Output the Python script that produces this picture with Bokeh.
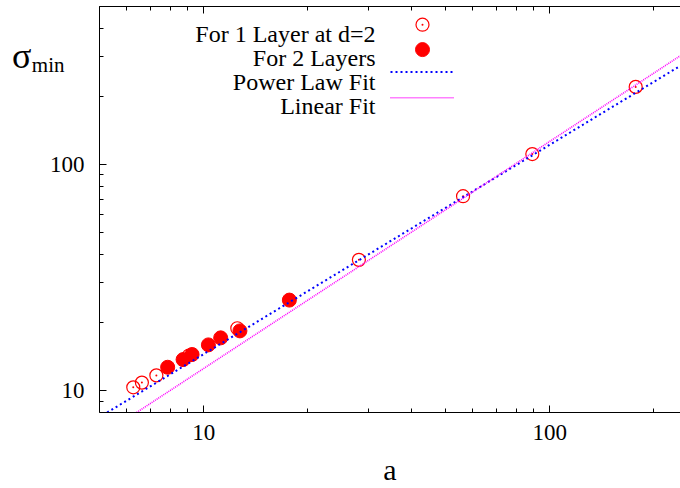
from bokeh.plotting import figure
from bokeh.models import Range1d, LinearScale, LogAxis, LinearAxis, FixedTicker
from bokeh.embed import file_html
from bokeh.resources import INLINE
from bokeh.core.properties import value

# ---------------- data ----------------
one_layer_a = [6.26, 6.63, 7.30, 9.07, 12.51, 28.1, 56.2, 89.1, 177.3]
one_layer_sigma = [10.37, 10.88, 11.71, 14.33, 18.91, 37.9, 72.4, 111.1, 220.0]

two_layer_a = [7.87, 8.72, 9.26, 10.32, 11.20, 12.73, 17.69]
two_layer_sigma = [12.72, 13.75, 14.48, 15.97, 17.15, 18.41, 25.18]

power_fit_a = [5.26, 239.0]
power_fit_sigma = [8.03, 273.0]

linear_fit_a = [6.40, 239.0]
linear_fit_sigma = [8.03, 302.5]

x_ticks = [10, 100]
x_minor_ticks = [5, 6, 7, 8, 9, 20, 30, 40, 50, 60, 70, 80, 90, 200]
y_ticks = [10, 100]
y_minor_ticks = [9, 20, 30, 40, 50, 60, 70, 80, 90, 200, 300, 400]
tick_labels = {10: "10", 100: "100"}

legend_labels = ["For 1 Layer at d=2", "For 2 Layers", "Power Law Fit", "Linear Fit"]
x_title = "a"
y_title_main, y_title_sub = "σ", "min"

# ---------------- layout ----------------
W, H = 680, 488
BL, BT, BB = 99, 6, 74
FW, FH = W - BL, H - BT - BB
FONT = "Liberation Serif"
RED, BLUE, MAGENTA = "#ff0000", "#0000ff", "#ff00ff"

p = figure(width=W, height=H, x_axis_type="log", y_axis_type="log",
           x_range=Range1d(5.0, 238.9), y_range=Range1d(8.03, 498.2),
           output_backend="svg", toolbar_location=None,
           min_border_left=BL, min_border_right=0, min_border_top=BT,
           min_border_bottom=BB)
p.outline_line_color = None
p.grid.visible = False
p.background_fill_color = "white"
p.border_fill_color = "white"

# pixel-space ranges (frame pixels) for the key and the y title
p.extra_x_ranges = {"px": Range1d(0, FW)}
p.extra_y_ranges = {"px": Range1d(0, FH)}
p.extra_x_scales = {"px": LinearScale()}
p.extra_y_scales = {"px": LinearScale()}

def px(page_x):
    return page_x - BL

def py(page_y):
    return (BT + FH) - page_y

def style_axis(ax, ticks, minor, standoff, major_in=7, minor_in=4):
    ax.ticker = FixedTicker(ticks=ticks, minor_ticks=minor)
    ax.major_label_text_font = FONT
    ax.major_label_text_font_size = "23px"
    ax.major_label_text_color = "black"
    ax.major_label_standoff = standoff
    ax.major_tick_in = major_in
    ax.major_tick_out = 0
    ax.minor_tick_in = minor_in
    ax.minor_tick_out = 0
    ax.axis_line_color = "black"
    ax.major_tick_line_color = "black"
    ax.minor_tick_line_color = "black"

style_axis(p.xaxis[0], x_ticks, x_minor_ticks, 12)
style_axis(p.yaxis[0], y_ticks, y_minor_ticks, 15)
p.xaxis[0].major_label_overrides = tick_labels
p.yaxis[0].major_label_overrides = tick_labels
p.xaxis[0].axis_label = x_title
p.xaxis[0].axis_label_text_font = FONT
p.xaxis[0].axis_label_text_font_size = "30px"
p.xaxis[0].axis_label_text_font_style = "normal"
p.xaxis[0].axis_label_text_color = "black"
p.xaxis[0].axis_label_standoff = 10

# mirrored ticks on the top border (no labels): minor and decade ticks
top_minor = LogAxis()
style_axis(top_minor, [], x_minor_ticks, 0)
p.add_layout(top_minor, "above")
top_major = LogAxis()
style_axis(top_major, [], x_ticks, 0, minor_in=7)
p.add_layout(top_major, "above")

# y title: "σ" with subscript "min", as label-only axes stacked on the left
sub_tick = int(py(65))
main_tick = int(py(56))
sub_ax = LinearAxis(y_range_name="px")
sub_ax.ticker = FixedTicker(ticks=[sub_tick])
sub_ax.major_label_overrides = {sub_tick: y_title_sub}
sub_ax.major_label_text_font = FONT
sub_ax.major_label_text_font_size = "21px"
sub_ax.major_label_text_color = "black"
sub_ax.major_label_standoff = -18
sub_ax.axis_line_color = None
sub_ax.major_tick_line_color = None
sub_ax.minor_tick_line_color = None
sub_ax.major_tick_in = 0
sub_ax.major_tick_out = 0
p.add_layout(sub_ax, "left")

main_ax = LinearAxis(y_range_name="px")
main_ax.ticker = FixedTicker(ticks=[main_tick])
main_ax.major_label_overrides = {main_tick: y_title_main}
main_ax.major_label_text_font = FONT
main_ax.major_label_text_font_size = "36px"
main_ax.major_label_text_color = "black"
main_ax.major_label_standoff = -3
main_ax.axis_line_color = None
main_ax.major_tick_line_color = None
main_ax.minor_tick_line_color = None
main_ax.major_tick_in = 0
main_ax.major_tick_out = 0
p.add_layout(main_ax, "left")

# ---------------- data marks ----------------
p.scatter(one_layer_a, one_layer_sigma, marker="circle", size=13,
          fill_color=None, line_color=RED, line_width=1.2)
p.scatter(one_layer_a, one_layer_sigma, marker="circle", size=2,
          fill_color=RED, line_color=None)
p.scatter(two_layer_a, two_layer_sigma, marker="circle", size=14,
          fill_color=RED, line_color=RED)
p.line(power_fit_a, power_fit_sigma, line_color=BLUE, line_width=2,
       line_dash="2 3")
p.line(linear_fit_a, linear_fit_sigma, line_color=MAGENTA, line_width=1.6,
       line_dash="1 1")

# ---------------- key (right-aligned text, sample on the right) ----------------
rows_base = [33.5, 57.8, 82.0, 106.2]
p.text(x=[px(375)] * 4, y=[py(v) for v in rows_base], text=legend_labels,
       x_range_name="px", y_range_name="px",
       text_font=value(FONT), text_font_size="24px", text_color="black",
       text_align="right", text_baseline="alphabetic")

p.scatter([px(422)], [py(24.3)], marker="circle", size=13, fill_color=None,
          line_color=RED, line_width=1.2, x_range_name="px", y_range_name="px")
p.scatter([px(422)], [py(24.3)], marker="circle", size=2, fill_color=RED,
          line_color=None, x_range_name="px", y_range_name="px")
p.scatter([px(422)], [py(49.3)], marker="circle", size=14, fill_color=RED,
          line_color=RED, x_range_name="px", y_range_name="px")
p.line([px(390), px(454)], [py(71.7), py(71.7)], line_color=BLUE,
       line_width=2, line_dash="2 3", x_range_name="px", y_range_name="px")
p.line([px(390), px(454)], [py(97.7), py(97.7)], line_color=MAGENTA,
       line_width=1.6, line_dash="1 1", x_range_name="px", y_range_name="px")

open("out.html", "w").write(file_html(p, INLINE))
